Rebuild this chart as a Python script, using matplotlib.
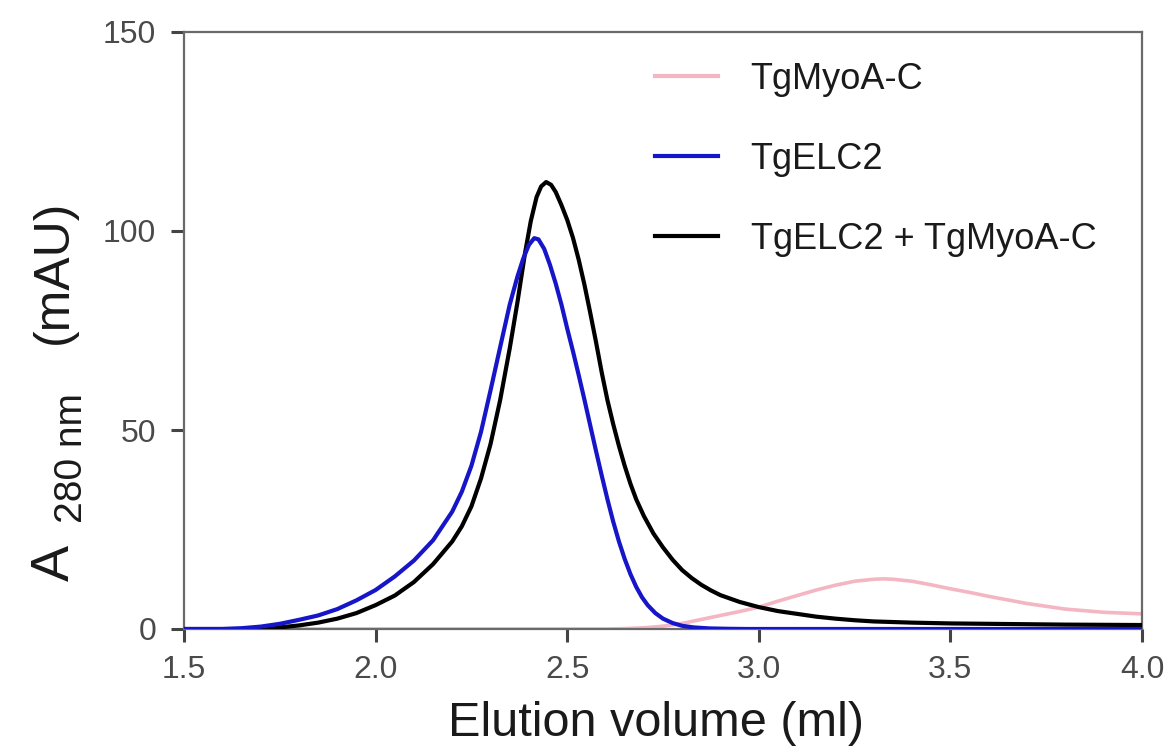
import matplotlib
matplotlib.use("Agg")
import matplotlib.pyplot as plt

plt.rcParams['font.family'] = ['Liberation Sans', 'DejaVu Sans']

# ---- data ----
myoa_x = [1.50, 2.60, 2.65, 2.70, 2.75, 2.80, 2.85, 2.90, 2.95, 3.00, 3.05, 3.10, 3.15,
          3.20, 3.25, 3.30, 3.325, 3.35, 3.40, 3.45, 3.50, 3.55, 3.60, 3.65, 3.70, 3.75,
          3.80, 3.85, 3.90, 3.95, 4.00]
myoa_y = [0.0, 0.0, 0.1, 0.3, 0.7, 1.4, 2.4, 3.4, 4.4, 5.5, 7.0, 8.4, 9.8,
          11.0, 12.0, 12.5, 12.6, 12.5, 12.0, 11.1, 10.1, 9.2, 8.2, 7.3, 6.4, 5.7,
          5.0, 4.6, 4.2, 4.0, 3.8]

elc2_x = [1.50, 1.60, 1.65, 1.70, 1.75, 1.80, 1.85, 1.90, 1.95, 2.00, 2.05, 2.10, 2.15,
          2.20, 2.225, 2.25, 2.275, 2.30, 2.325, 2.35, 2.37, 2.385, 2.40, 2.414, 2.425,
          2.44, 2.455, 2.47, 2.485, 2.50, 2.515, 2.53, 2.545, 2.56, 2.575, 2.59, 2.605,
          2.62, 2.635, 2.65, 2.665, 2.68, 2.695, 2.71, 2.73, 2.75, 2.775, 2.80, 2.83,
          2.87, 2.92, 2.97, 4.00]
elc2_y = [0.0, 0.0, 0.2, 0.6, 1.3, 2.3, 3.4, 5.0, 7.2, 9.8, 13.2, 17.2, 22.3,
          29.5, 34.5, 41.0, 49.5, 60.0, 70.8, 81.5, 88.5, 93.0, 96.5, 98.2, 97.9,
          95.5, 91.5, 86.8, 81.5, 75.5, 69.8, 63.8, 57.6, 51.2, 44.8, 38.6, 32.6,
          27.0, 22.0, 17.6, 13.8, 10.6, 8.0, 6.0, 4.0, 2.6, 1.5, 0.8, 0.4,
          0.15, 0.05, 0.0, 0.0]

complex_x = [1.50, 1.65, 1.70, 1.75, 1.80, 1.85, 1.90, 1.95, 2.00, 2.05, 2.10, 2.15,
             2.20, 2.225, 2.25, 2.275, 2.30, 2.325, 2.35, 2.37, 2.39, 2.405, 2.42,
             2.432, 2.445, 2.458, 2.47, 2.485, 2.50, 2.515, 2.53, 2.545, 2.56, 2.575,
             2.59, 2.605, 2.62, 2.635, 2.65, 2.665, 2.68, 2.70, 2.725, 2.75, 2.775,
             2.80, 2.825, 2.85, 2.875, 2.90, 2.95, 3.00, 3.05, 3.10, 3.15, 3.20,
             3.25, 3.30, 3.40, 3.50, 3.60, 3.80, 4.00]
complex_y = [0.0, 0.0, 0.1, 0.4, 0.9, 1.6, 2.6, 4.0, 6.0, 8.4, 11.8, 16.3,
             22.0, 25.8, 30.8, 37.8, 46.5, 57.5, 70.5, 82.0, 94.5, 102.5, 108.5,
             111.2, 112.3, 111.6, 109.8, 106.5, 102.8, 98.3, 92.8, 86.5, 79.5, 72.2,
             64.5, 57.5, 51.5, 46.0, 41.0, 36.5, 32.6, 28.4, 24.0, 20.5, 17.4,
             14.8, 12.8, 11.1, 9.7, 8.5, 6.8, 5.5, 4.5, 3.8, 3.1, 2.6,
             2.2, 1.9, 1.6, 1.4, 1.3, 1.1, 1.0]

labels = ["TgMyoA-C", "TgELC2", "TgELC2 + TgMyoA-C"]
x_ticks = [1.5, 2.0, 2.5, 3.0, 3.5, 4.0]
x_ticklabels = ["1.5", "2.0", "2.5", "3.0", "3.5", "4.0"]
y_ticks = [0, 50, 100, 150]

# ---- figure ----
W, H = 1175, 746
fig = plt.figure(figsize=(W/100, H/100), dpi=100)
ax = fig.add_axes([184/W, 1-629/H, (1142-184)/W, (629-32)/H])

l_pink, = ax.plot(myoa_x, myoa_y, color='#f4b6c2', lw=2.6, zorder=2,
                  solid_joinstyle='round')
l_black, = ax.plot(complex_x, complex_y, color='#000000', lw=3.0, zorder=3,
                   solid_joinstyle='round')
l_blue, = ax.plot(elc2_x, elc2_y, color='#1616c8', lw=3.0, zorder=4,
                  solid_joinstyle='round')

ax.set_xlim(1.5, 4.0)
ax.set_ylim(0, 150)
ax.set_xticks(x_ticks)
ax.set_xticklabels(x_ticklabels)
ax.set_yticks(y_ticks)

spine_col = '#6a6a6a'
for s in ax.spines.values():
    s.set_color(spine_col)
    s.set_linewidth(1.6)
ax.tick_params(axis='both', direction='out', length=9.5, width=2.2, color='#444444',
               labelsize=23, labelcolor='#4a4a4a')
ax.tick_params(axis='y', pad=10.5)
ax.tick_params(axis='x', pad=9)

ax.set_xlabel("Elution volume (ml)", fontsize=35, color='#1a1a1a', va='baseline')
ax.xaxis.set_label_coords((656-184)/958, (629-736)/597)

# y-axis label: A with a subscript "280 nm", then "(mAU)"
lab_col = '#1a1a1a'
fig.text(69/W, 1-563/H, "A", fontsize=39, color=lab_col, rotation=90,
         rotation_mode='anchor', ha='center', va='baseline')
fig.text(82/W, 1-458/H, "280 nm", fontsize=28, color=lab_col, rotation=90,
         rotation_mode='anchor', ha='center', va='baseline')
fig.text(67/W, 1-272/H, "(mAU)", fontsize=36, color=lab_col, rotation=90,
         rotation_mode='anchor', ha='center', va='baseline')

leg = ax.legend([l_pink, l_blue, l_black], labels, loc='upper left',
                bbox_to_anchor=(655/W, 1-62/H), bbox_transform=fig.transFigure,
                frameon=False, fontsize=26, handlelength=1.75, handletextpad=0.9,
                labelspacing=1.24, borderpad=0, borderaxespad=0)
for t in leg.get_texts():
    t.set_color('#1a1a1a')
for h in leg.get_lines():
    h.set_linewidth(3.0)

fig.savefig("out.png", dpi=100)
